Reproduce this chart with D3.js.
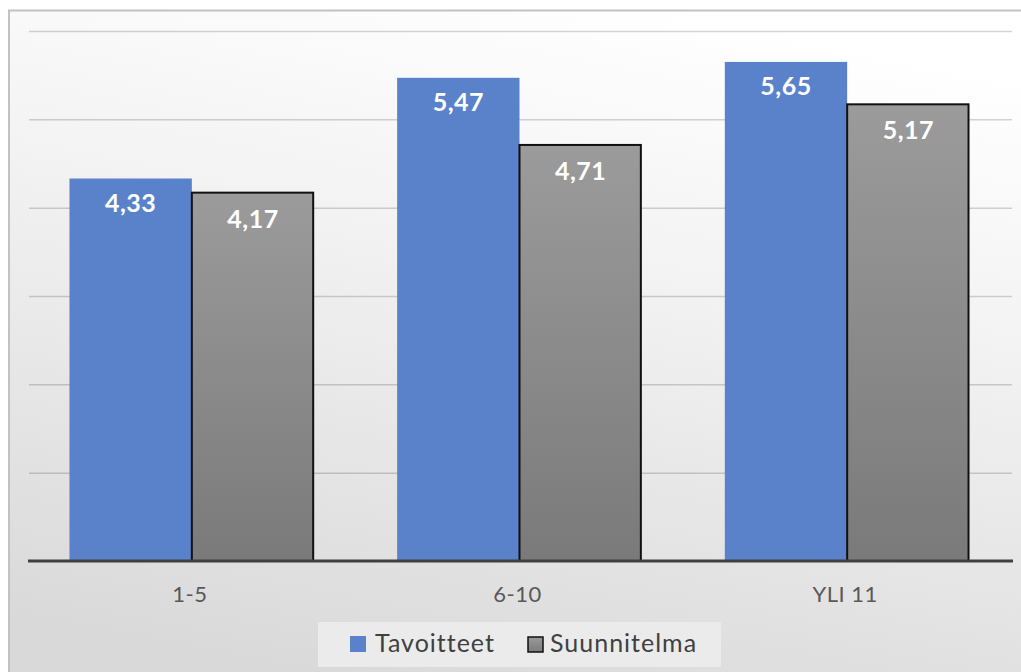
<!DOCTYPE html>
<html>
<head>
<meta charset="utf-8">
<script src="https://cdn.jsdelivr.net/npm/d3@7"></script>
<style>
  html, body { margin: 0; padding: 0; background: #ffffff; }
  svg { display: block; }
</style>
</head>
<body>
<svg id="chart" width="1021" height="672"></svg>
<script>
// Categories and series values
const categories = ["1-5", "6-10", "YLI 11"];
const seriesNames = ["Tavoitteet", "Suunnitelma"];
const tavoitteet = [4.33, 5.47, 5.65];
const suunnitelma = [4.17, 4.71, 5.17];
const yTicks = [0, 1, 2, 3, 4, 5, 6];

const seriesValues = [tavoitteet, suunnitelma];
const fmt = v => d3.format(".2f")(v).replace(".", ",");

const svg = d3.select("#chart");
const W = 1021, H = 672;
const plot = { left: 29, right: 1012, top: 31, bottom: 561 };

// Gradients
const defs = svg.append("defs");
const bg = defs.append("linearGradient")
  .attr("id", "bgGrad")
  .attr("x1", 0.65).attr("y1", 0).attr("x2", 0.35).attr("y2", 1);
bg.append("stop").attr("offset", "0%").attr("stop-color", "#ffffff");
bg.append("stop").attr("offset", "35%").attr("stop-color", "#f3f3f3");
bg.append("stop").attr("offset", "100%").attr("stop-color", "#d9d9d9");

const grayGrad = defs.append("linearGradient")
  .attr("id", "grayGrad")
  .attr("x1", 0).attr("y1", 0).attr("x2", 0).attr("y2", 1);
grayGrad.append("stop").attr("offset", "0%").attr("stop-color", "#9b9b9b");
grayGrad.append("stop").attr("offset", "100%").attr("stop-color", "#7a7a7a");

const legendGray = defs.append("linearGradient")
  .attr("id", "legendGray")
  .attr("x1", 0).attr("y1", 0).attr("x2", 0).attr("y2", 1);
legendGray.append("stop").attr("offset", "0%").attr("stop-color", "#9a9a9a");
legendGray.append("stop").attr("offset", "100%").attr("stop-color", "#7c7c7c");

// Chart area background with border
svg.append("rect")
  .attr("x", 9).attr("y", 10.5)
  .attr("width", W + 10).attr("height", H + 10)
  .attr("fill", "url(#bgGrad)")
  .attr("stroke", "#c2c2c2")
  .attr("stroke-width", 2);

// Scales
const x0 = d3.scaleBand()
  .domain(categories)
  .range([plot.left, plot.right])
  .paddingInner(0).paddingOuter(0);

const x1 = d3.scaleBand()
  .domain(seriesNames)
  .range([0, x0.bandwidth()])
  .paddingInner(0)
  .paddingOuter(0.339);

const y = d3.scaleLinear()
  .domain([0, 6])
  .range([plot.bottom, plot.top]);

// Gridlines
const yAxis = d3.axisLeft(y)
  .tickValues(yTicks.filter(t => t > 0))
  .tickSize(-(plot.right - plot.left))
  .tickFormat("");
const gGrid = svg.append("g")
  .attr("transform", `translate(${plot.left},0)`)
  .call(yAxis);
gGrid.select(".domain").remove();
gGrid.selectAll(".tick line")
  .attr("stroke", "#000000")
  .attr("stroke-opacity", 0.17)
  .attr("stroke-width", 1.5);

// Bars
const rows = categories.map((c, i) => ({
  cat: c,
  vals: seriesNames.map((s, j) => ({ series: s, value: seriesValues[j][i] }))
}));

const groups = svg.append("g").selectAll("g")
  .data(rows)
  .join("g")
  .attr("transform", d => `translate(${x0(d.cat) - 1},0)`);

groups.selectAll("rect")
  .data(d => d.vals)
  .join("rect")
  .attr("x", d => x1(d.series) + (d.series === "Suunnitelma" ? 0 : 0))
  .attr("y", d => y(d.value))
  .attr("width", d => x1.bandwidth() - (d.series === "Suunnitelma" ? 1 : 0))
  .attr("height", d => plot.bottom - y(d.value))
  .attr("fill", d => d.series === "Tavoitteet" ? "#5a82ca" : "url(#grayGrad)")
  .attr("stroke", d => d.series === "Tavoitteet" ? "none" : "#111111")
  .attr("stroke-width", 2);

// Value labels
groups.selectAll("text")
  .data(d => d.vals)
  .join("text")
  .attr("x", d => x1(d.series) + x1.bandwidth() / 2)
  .attr("y", d => y(d.value) + (d.series === "Tavoitteet" ? 33 : 35))
  .attr("text-anchor", "middle")
  .attr("font-family", "Lato, 'Open Sans', sans-serif")
  .attr("font-weight", "bold")
  .attr("font-size", 25)
  .attr("letter-spacing", 0.5)
  .attr("fill", "#ffffff")
  .text(d => fmt(d.value));

// Baseline and category axis
const xAxis = d3.axisBottom(x0).tickSize(0).tickPadding(0);
const gx = svg.append("g")
  .attr("transform", `translate(0,${plot.bottom})`)
  .call(xAxis);
gx.select(".domain")
  .attr("stroke", "#404040")
  .attr("stroke-width", 3)
  .attr("d", `M${plot.left - 1},0H${plot.right + 1}`);
gx.selectAll(".tick text")
  .attr("y", 41)
  .attr("dy", 0)
  .attr("dx", -3)
  .attr("font-family", "Lato, 'Open Sans', sans-serif")
  .attr("font-size", 22)
  .attr("letter-spacing", 0.5)
  .attr("fill", "#595959");

// Legend
const legend = svg.append("g");
legend.append("rect")
  .attr("x", 318).attr("y", 622)
  .attr("width", 403).attr("height", 45)
  .attr("fill", "#ebebeb");

const legendItems = [
  { name: seriesNames[0], sx: 350, tx: 375, fill: "#5a82ca", stroke: "none" },
  { name: seriesNames[1], sx: 527, tx: 550, fill: "url(#legendGray)", stroke: "#111111" }
];
legend.selectAll("rect.key")
  .data(legendItems)
  .join("rect")
  .attr("class", "key")
  .attr("x", d => d.sx + (d.stroke === "none" ? 0 : 1))
  .attr("y", d => 636 + (d.stroke === "none" ? 0 : 1))
  .attr("width", d => d.stroke === "none" ? 16 : 15)
  .attr("height", d => d.stroke === "none" ? 16 : 15)
  .attr("fill", d => d.fill)
  .attr("stroke", d => d.stroke)
  .attr("stroke-width", 1.5);
legend.selectAll("text")
  .data(legendItems)
  .join("text")
  .attr("x", d => d.tx)
  .attr("y", 652)
  .attr("font-family", "Lato, 'Open Sans', sans-serif")
  .attr("font-size", 25)
  .attr("letter-spacing", 1)
  .attr("fill", "#404040")
  .text(d => d.name);
</script>
</body>
</html>
